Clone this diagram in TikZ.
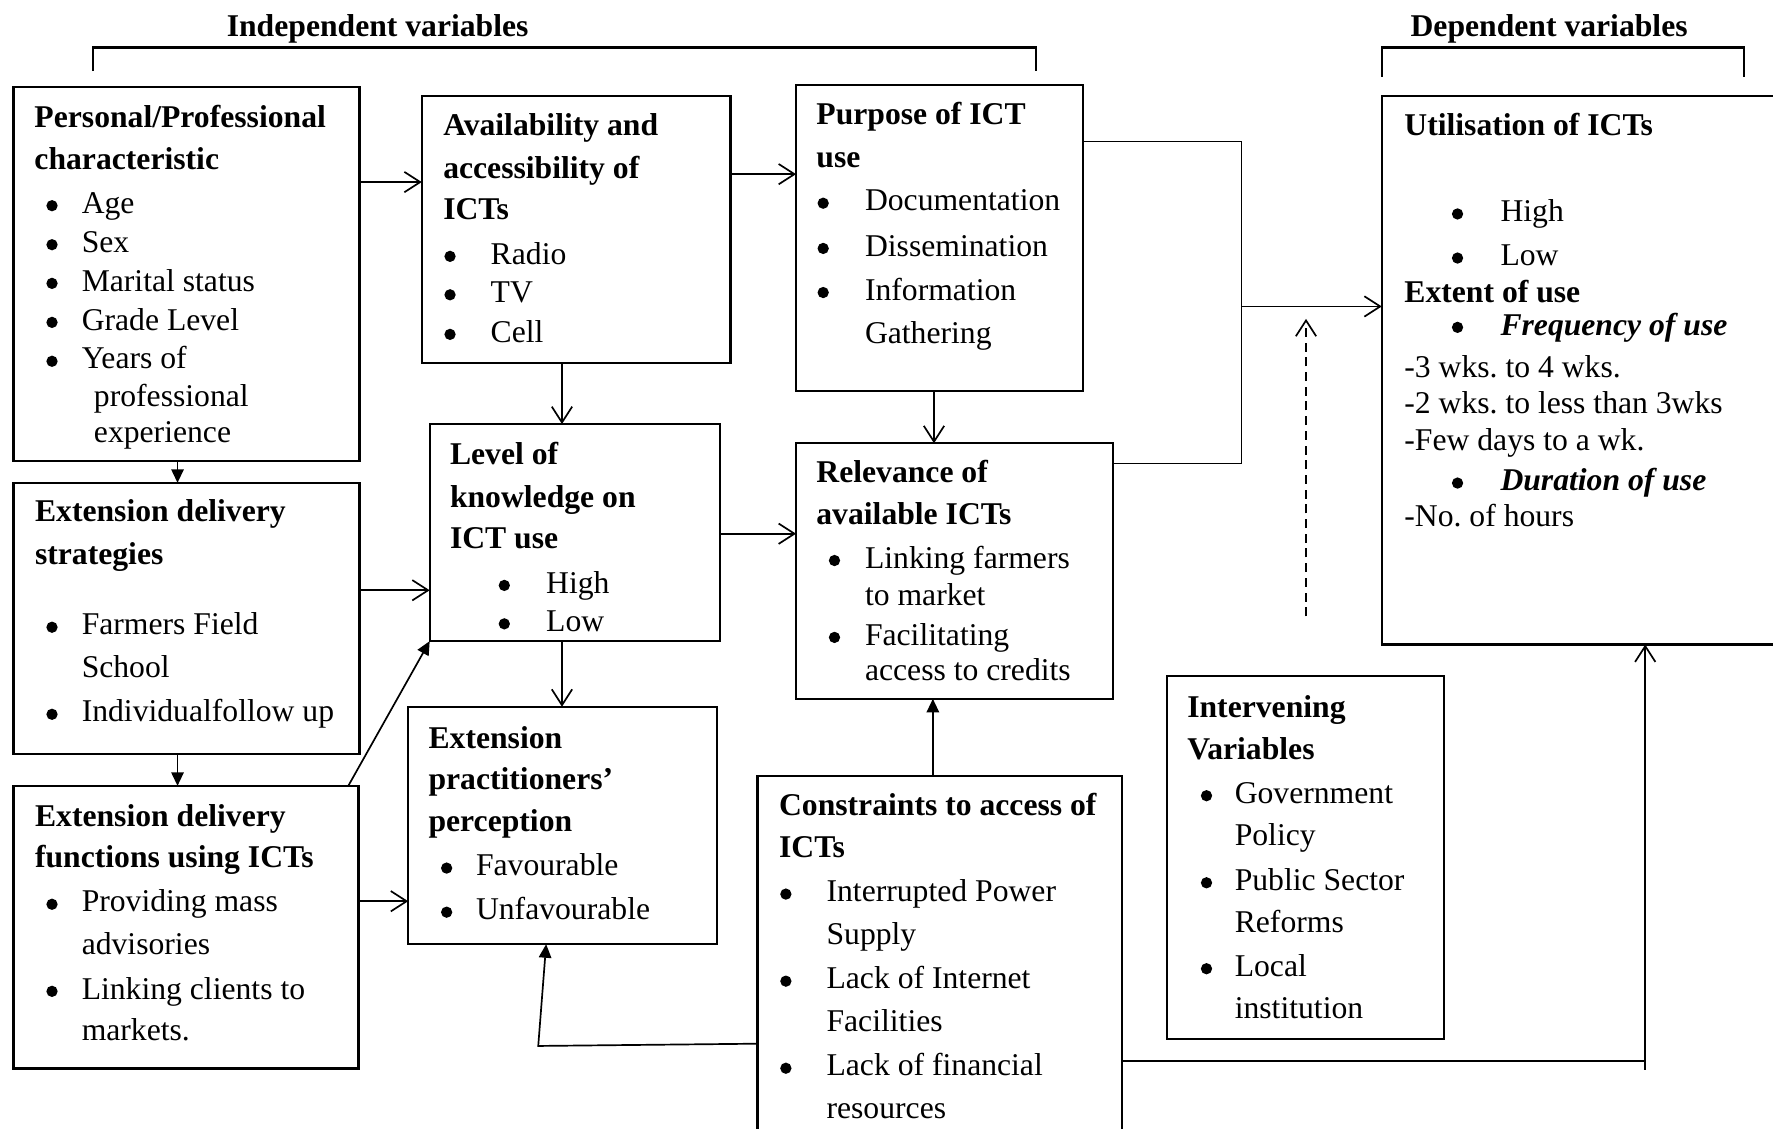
\documentclass[tikz,border=0pt]{standalone}
\usepackage{fontspec}
\setmainfont{Liberation Serif}
\usetikzlibrary{arrows.meta}
\tikzset{
 box/.style={draw, line width=1pt, inner sep=0pt, outer sep=0pt},
 txt/.style={inner sep=0pt, outer sep=0pt, anchor=base west, font=\fontsize{14pt}{17pt}\selectfont},
 hd/.style={txt, font=\fontsize{14pt}{17pt}\selectfont\bfseries},
 hdi/.style={txt, font=\fontsize{14pt}{17pt}\selectfont\bfseries\itshape},
 dot/.style={circle, fill, draw=none, inner sep=0pt, outer sep=0pt, minimum size=5pt},
 con/.style={line width=0.75pt},
 openarr/.style={con, -{Straight Barb[length=7pt,width=9pt]}},
 fillarr/.style={con, -{Triangle[length=6pt,width=5.5pt]}},
}
\newcommand\bx[5]{\node[box, minimum width={(#4-#2)/2}, minimum height={(#5-#3)/2}] (#1) at ({(#2+#4)/2},{(#3+#5)/2}) {};}
\newcommand\hl[4]{\node[hd] (#1) at (#2,#3) {#4};}
\newcommand\tl[4]{\node[txt] (#1) at (#2,#3) {#4};}
\newcommand\bl[5]{\node[dot] (#1b) at ({#2-1},{#4-6.8}) {}; \node[txt] (#1) at (#3,#4) {#5};}
\begin{document}
\frenchspacing
\begin{tikzpicture}[x=0.5pt,y=-0.5pt]
\useasboundingbox (0,0) rectangle (1568,998);
% titles and brackets
\node[hd, anchor=base] (indep) at (334,32.5) {Independent variables};
\node[hd, anchor=base] (dep) at (1370,32.5) {Dependent variables};
\draw[line width=0.9pt] (82,63) -- (82,42) -- (916,42) -- (916,63);
\draw[line width=0.9pt] (1222,68) -- (1222,42) -- (1542,42) -- (1542,68);

% boxes
\bx{pc}{12}{77}{318}{408}
\bx{es}{12}{427}{318}{667}
\bx{ef}{12}{695}{317}{945}
\bx{av}{373}{85}{646}{321}
\bx{lk}{380}{375}{637}{567}
\bx{ep}{361}{625}{634}{835}
\bx{pu}{704}{75}{958}{346}
\bx{re}{704}{392}{984}{618}
\bx{co}{670}{686}{992}{1040}
\bx{iv}{1032}{598}{1277}{919}
\bx{ut}{1222}{85}{1620}{570}

% Personal box
\hl{pc1}{30.5}{112.9}{Personal/Professional}
\hl{pc2}{30.5}{149.8}{characteristic}
\bl{pc3}{47}{72.3}{188.7}{Age}
\bl{pc4}{47}{72.3}{223.2}{Sex}
\bl{pc5}{47}{72.3}{257.4}{Marital status}
\bl{pc6}{47}{72.3}{291.9}{Grade Level}
\bl{pc7}{47}{72.3}{326.3}{Years of}
\tl{pc8}{83.1}{359.7}{professional}
\tl{pc9}{83.1}{391.5}{experience}

% Extension strategies
\hl{es1}{31}{461.5}{Extension delivery}
\hl{es2}{31}{499.5}{strategies}
\bl{es3}{47}{72.3}{561.5}{Farmers Field}
\tl{es4}{72.3}{599.5}{School}
\bl{es5}{47}{72.3}{638.5}{Individualfollow up}

% Extension functions
\hl{ef1}{31}{730.5}{Extension delivery}
\hl{ef2}{31}{767.5}{functions using ICTs}
\bl{ef3}{47}{72.3}{806.5}{Providing mass}
\tl{ef4}{72.3}{844.5}{advisories}
\bl{ef5}{47}{72.3}{883.5}{Linking clients to}
\tl{ef6}{72.3}{920.5}{markets.}

% Availability
\hl{av1}{392}{119.5}{Availability and}
\hl{av2}{392}{157.5}{accessibility of}
\hl{av3}{392}{194.5}{ICTs}
\bl{av4}{399}{434}{233.5}{Radio}
\bl{av5}{399}{434}{267.5}{TV}
\bl{av6}{399}{434}{302.5}{Cell}

% Level of knowledge
\hl{lk1}{398}{410.5}{Level of}
\hl{lk2}{398}{448.5}{knowledge on}
\hl{lk3}{398}{485.5}{ICT use}
\bl{lk4}{447}{483}{524.5}{High}
\bl{lk5}{447}{483}{558.5}{Low}

% Perception
\hl{ep1}{379}{661.5}{Extension}
\hl{ep2}{379}{698.5}{practitioners’}
\hl{ep3}{379}{735.5}{perception}
\bl{ep4}{396}{421}{774.5}{Favourable}
\bl{ep5}{396}{421}{813.5}{Unfavourable}

% Purpose
\hl{pu1}{722}{110.5}{Purpose of ICT}
\hl{pu2}{722}{148.5}{use}
\bl{pu3}{729}{765}{186.5}{Documentation}
\bl{pu4}{729}{765}{226.5}{Dissemination}
\bl{pu5}{729}{765}{265.5}{Information}
\tl{pu6}{765}{303.5}{Gathering}

% Relevance
\hl{re1}{722}{426.5}{Relevance of}
\hl{re2}{722}{463.5}{available ICTs}
\bl{re3}{739}{765}{502.5}{Linking farmers}
\tl{re4}{765}{535.5}{to market}
\bl{re5}{739}{765}{570.5}{Facilitating}
\tl{re6}{765}{601.5}{access to credits}

% Constraints
\hl{co1}{689}{721.5}{Constraints to access of}
\hl{co2}{689}{758.5}{ICTs}
\bl{co3}{696}{731}{797.5}{Interrupted Power}
\tl{co4}{731}{835.5}{Supply}
\bl{co5}{696}{731}{874.5}{Lack of Internet}
\tl{co6}{731}{912.5}{Facilities}
\bl{co7}{696}{731}{951.5}{Lack of financial}
\tl{co8}{731}{989.5}{resources}

% Intervening
\hl{iv1}{1050}{634.5}{Intervening}
\hl{iv2}{1050}{671.5}{Variables}
\bl{iv3}{1068}{1092}{710.5}{Government}
\tl{iv4}{1092}{747.5}{Policy}
\bl{iv5}{1068}{1092}{787.5}{Public Sector}
\tl{iv6}{1092}{824.5}{Reforms}
\bl{iv7}{1068}{1092}{863.5}{Local}
\tl{iv8}{1092}{900.5}{institution}

% Utilisation
\hl{ut1}{1242}{119.4}{Utilisation of ICTs}
\bl{ut2}{1290}{1327}{196}{High}
\bl{ut3}{1290}{1327}{235}{Low}
\hl{ut4}{1242}{267.7}{Extent of use}
\node[dot] (ut5b) at (1289,289.5) {};
\node[hdi] (ut5) at (1327,296.3) {Frequency of use};
\tl{ut6}{1242}{334}{-3 wks. to 4 wks.}
\tl{ut7}{1242}{365.3}{-2 wks. to less than 3wks}
\tl{ut8}{1242}{398.6}{-Few days to a wk.}
\node[dot] (ut9b) at (1289,427.2) {};
\node[hdi] (ut9) at (1327,434) {Duration of use};
\tl{ut10}{1242}{465.8}{-No. of hours}

% connectors
\draw[openarr] (pc.east |- 0,161) -- (av.west |- 0,161);
\draw[fillarr] (pc.south -| 157,0) -- (es.north -| 157,0);
\draw[fillarr] (es.south -| 157,0) -- (ef.north -| 157,0);
\draw[openarr] (es.east |- 0,522) -- (lk.west |- 0,522);
\draw[fillarr] (ef.north -| 308,0) -- (lk.south west);
\draw[openarr] (ef.east |- 0,797) -- (ep.west |- 0,797);
\draw[openarr] (av.south -| 497,0) -- (lk.north -| 497,0);
\draw[openarr] (lk.south -| 497,0) -- (ep.north -| 497,0);
\draw[openarr] (av.east |- 0,154) -- (pu.west |- 0,154);
\draw[openarr] (lk.east |- 0,472) -- (re.west |- 0,472);
\draw[openarr] (pu.south -| 826,0) -- (re.north -| 826,0);
\coordinate (j1) at (1098,125);
\coordinate (j2) at (1098,410);
\coordinate (j3) at (1098,271);
\draw[con] (pu.east |- j1) -- (j1) -- (j2) -- (re.east |- j2);
\draw[openarr] (j3) -- (ut.west |- j3);
\coordinate (d1) at (1155,545);
\coordinate (d2) at (1155,282);
\draw[openarr, dash pattern=on 4pt off 2.5pt] (d1) -- (d2);
\draw[fillarr] (co.north -| 825,0) -- (re.south -| 825,0);
\coordinate (k1) at (476,925);
\draw[fillarr] (co.west |- 0,923) -- (k1) -- (ep.south -| 483,0);
\coordinate (m1) at (1455,938);
\coordinate (m2) at (1455,946);
\draw[con] (co.east |- m1) -- (m1);
\draw[openarr] (m2) -- (ut.south -| m2);
\end{tikzpicture}
\end{document}
